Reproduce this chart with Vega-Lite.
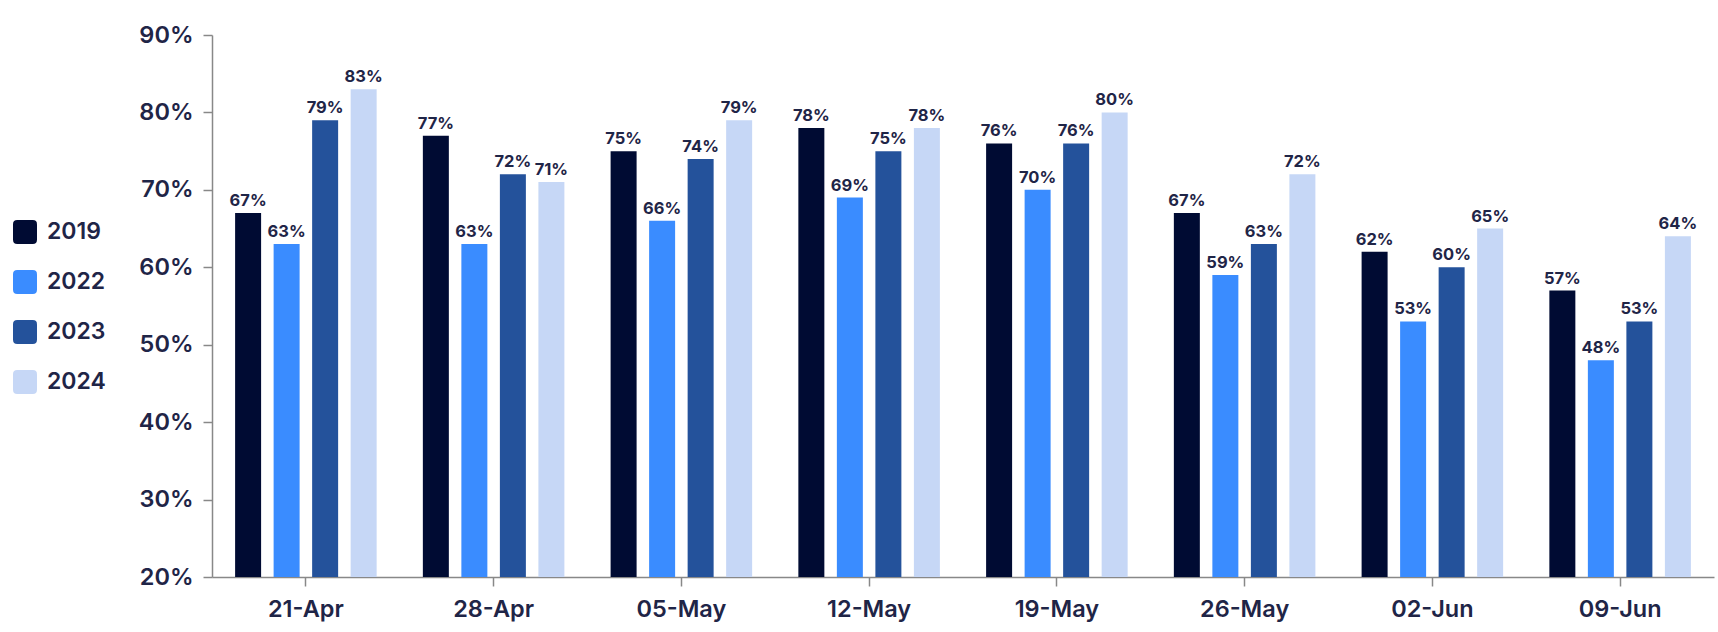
{
  "$schema": "https://vega.github.io/schema/vega-lite/v6.json",
  "width": 1502,
  "height": 542,
  "autosize": {"type": "none"},
  "padding": {"left": 212, "top": 35, "right": 4, "bottom": 55},
  "background": "white",
  "config": {
    "font": "Inter",
    "view": {"stroke": null}
  },
  "data": {
    "values": [
      {"week": "21-Apr", "year": "2019", "v": 0.67},
      {"week": "21-Apr", "year": "2022", "v": 0.63},
      {"week": "21-Apr", "year": "2023", "v": 0.79},
      {"week": "21-Apr", "year": "2024", "v": 0.83},
      {"week": "28-Apr", "year": "2019", "v": 0.77},
      {"week": "28-Apr", "year": "2022", "v": 0.63},
      {"week": "28-Apr", "year": "2023", "v": 0.72},
      {"week": "28-Apr", "year": "2024", "v": 0.71},
      {"week": "05-May", "year": "2019", "v": 0.75},
      {"week": "05-May", "year": "2022", "v": 0.66},
      {"week": "05-May", "year": "2023", "v": 0.74},
      {"week": "05-May", "year": "2024", "v": 0.79},
      {"week": "12-May", "year": "2019", "v": 0.78},
      {"week": "12-May", "year": "2022", "v": 0.69},
      {"week": "12-May", "year": "2023", "v": 0.75},
      {"week": "12-May", "year": "2024", "v": 0.78},
      {"week": "19-May", "year": "2019", "v": 0.76},
      {"week": "19-May", "year": "2022", "v": 0.70},
      {"week": "19-May", "year": "2023", "v": 0.76},
      {"week": "19-May", "year": "2024", "v": 0.80},
      {"week": "26-May", "year": "2019", "v": 0.67},
      {"week": "26-May", "year": "2022", "v": 0.59},
      {"week": "26-May", "year": "2023", "v": 0.63},
      {"week": "26-May", "year": "2024", "v": 0.72},
      {"week": "02-Jun", "year": "2019", "v": 0.62},
      {"week": "02-Jun", "year": "2022", "v": 0.53},
      {"week": "02-Jun", "year": "2023", "v": 0.60},
      {"week": "02-Jun", "year": "2024", "v": 0.65},
      {"week": "09-Jun", "year": "2019", "v": 0.57},
      {"week": "09-Jun", "year": "2022", "v": 0.48},
      {"week": "09-Jun", "year": "2023", "v": 0.53},
      {"week": "09-Jun", "year": "2024", "v": 0.64}
    ]
  },
  "encoding": {
    "x": {
      "field": "week",
      "type": "nominal",
      "sort": null,
      "scale": {"paddingInner": 0, "paddingOuter": 0},
      "axis": {
        "title": null,
        "labelAngle": 0,
        "labelFontSize": 23.5,
        "labelFontWeight": 600,
        "labelColor": "#1f2547",
        "labelPadding": 11,
        "tickSize": 9,
        "tickColor": "#888888",
        "tickWidth": 1.5,
        "domainColor": "#888888",
        "domainWidth": 1.5
      }
    },
    "xOffset": {
      "field": "year",
      "type": "nominal",
      "scale": {"paddingInner": 0.325, "paddingOuter": 0.6}
    },
    "y": {
      "field": "v",
      "type": "quantitative",
      "scale": {"domain": [0.2, 0.9], "zero": false, "nice": false},
      "axis": {
        "title": null,
        "format": ".0%",
        "values": [0.2, 0.3, 0.4, 0.5, 0.6, 0.7, 0.8, 0.9],
        "grid": false,
        "labelFontSize": 23.5,
        "labelFontWeight": 600,
        "labelColor": "#1f2547",
        "labelPadding": 10,
        "tickSize": 9,
        "tickColor": "#888888",
        "tickWidth": 1.5,
        "domainColor": "#888888",
        "domainWidth": 1.5
      }
    }
  },
  "layer": [
    {
      "mark": {"type": "bar"},
      "encoding": {
        "y2": {"datum": 0.2},
        "color": {
          "field": "year",
          "type": "nominal",
          "scale": {
            "domain": ["2019", "2022", "2023", "2024"],
            "range": ["#000b33", "#3a8cff", "#24529b", "#c6d7f6"]
          },
          "legend": {
            "title": null,
            "orient": "none",
            "legendX": -199,
            "legendY": 185,
            "symbolType": "M-0.65,-1 L0.65,-1 Q1,-1 1,-0.65 L1,0.65 Q1,1 0.65,1 L-0.65,1 Q-1,1 -1,0.65 L-1,-0.65 Q-1,-1 -0.65,-1 Z",
            "symbolSize": 576,
            "symbolStrokeWidth": 0,
            "labelFontSize": 23,
            "labelFontWeight": 600,
            "labelColor": "#1f2547",
            "labelOffset": 10,
            "rowPadding": 26
          }
        }
      }
    },
    {
      "mark": {
        "type": "text",
        "baseline": "bottom",
        "dy": -4,
        "fontSize": 16.5,
        "fontWeight": "bold",
        "color": "#1f2547"
      },
      "encoding": {
        "text": {"field": "v", "type": "quantitative", "format": ".0%"}
      }
    }
  ]
}
